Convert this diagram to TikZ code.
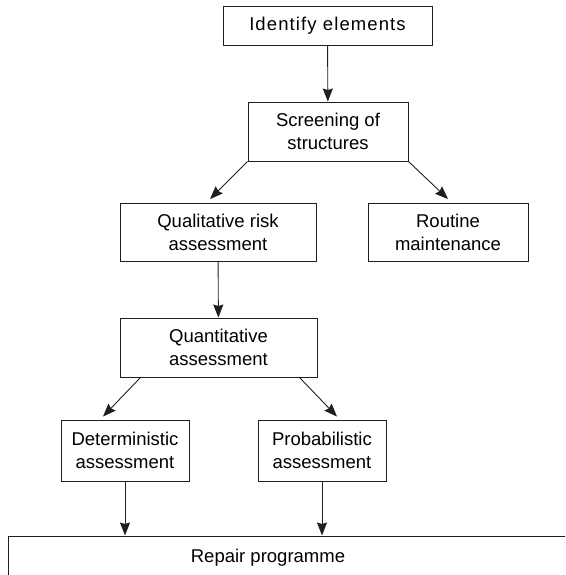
\documentclass[tikz,border=0pt]{standalone}
\usepackage{fontspec}
\setmainfont{Liberation Sans}
\usetikzlibrary{arrows.meta,calc}
\begin{document}
\begin{tikzpicture}[x=1pt,y=-1pt,
  txt/.style={font=\fontsize{18.5}{23}\selectfont, align=center, inner sep=0pt},
  box/.style={txt, draw=black!88, line width=0.9pt},
  flow/.style={draw=black!88, line width=0.9pt, -{Stealth[length=13pt,width=10pt,inset=1.5pt]}}]
\useasboundingbox (0,0) rectangle (565,575);
\clip (0,0) rectangle (565,575);

% process boxes
\node[box, minimum width=209pt, minimum height=39pt] (identify) at (327.5,25.5) {\addfontfeature{LetterSpace=6}Identify elements};
\node[box, minimum width=160pt, minimum height=59pt] (screen) at (328,131.5) {Screening of\\structures};
\node[box, minimum width=196pt, minimum height=58pt] (qual) at (218,232.5) {Qualitative risk\\assessment};
\node[box, minimum width=160pt, minimum height=58pt] (routine) at (448,232.5) {Routine\\maintenance};
\node[box, minimum width=197pt, minimum height=59pt] (quant) at (218.5,347.5) {Quantitative\\assessment};
\node[box, minimum width=128pt, minimum height=61pt] (determ) at (125,450.5) {Deterministic\\assessment};
\node[box, minimum width=128pt, minimum height=61pt] (prob) at (322,450.5) {Probabilistic\\assessment};

% the repair programme box runs past the right and bottom edges
\node[draw=black!88, line width=0.9pt, anchor=north west, minimum width=600pt, minimum height=60pt, inner sep=0pt] (repair) at (8,535.5) {};
\node[txt] (repairtext) at (268,558) {Repair programme};

% connectors
\draw[flow] (identify) -- (screen);
\draw[flow] (screen.south west) -- ($(qual.north)+(-8,-4)$);
\draw[flow] (screen.south east) -- ($(routine.north)+(0,-4)$);
\draw[flow] (qual) -- (quant);
\draw[flow] ($(quant.south west)+(21,0)$) -- ($(determ.north)+(-22,-3)$);
\draw[flow] ($(quant.south east)+(-18,0)$) -- ($(prob.north)+(15,-3)$);
\draw[flow] (determ.south) -- (determ.south |- repair.north);
\draw[flow] (prob.south) -- (prob.south |- repair.north);
\end{tikzpicture}
\end{document}
